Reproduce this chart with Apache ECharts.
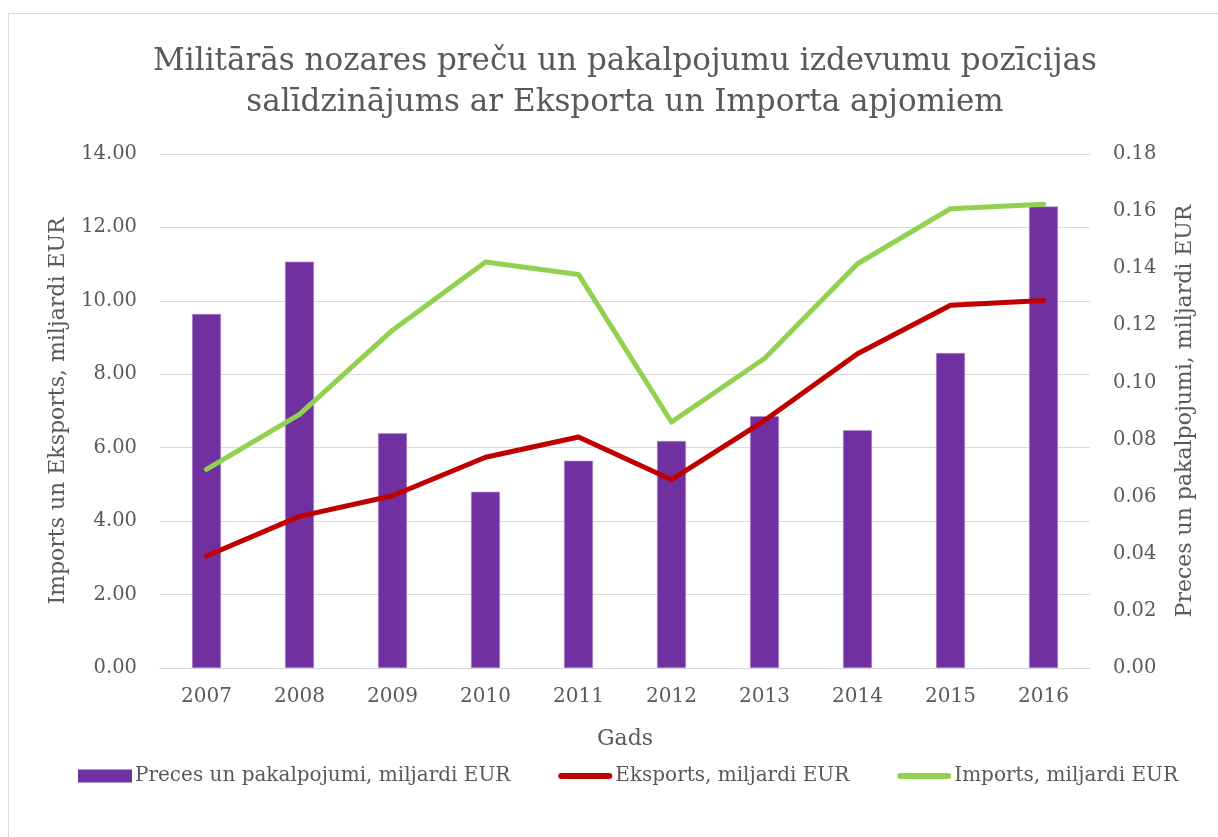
<!DOCTYPE html>
<html>
<head>
<meta charset="utf-8">
<script src="https://cdn.jsdelivr.net/npm/echarts@6/dist/echarts.min.js"></script>
<style>
  html, body { margin: 0; padding: 0; background: #fff; }
  #chart { width: 1218px; height: 837px; }
</style>
</head>
<body>
<div id="chart"></div>
<script>
// dati
var years = ['2007', '2008', '2009', '2010', '2011', '2012', '2013', '2014', '2015', '2016'];
var preces = [0.124, 0.1423, 0.0822, 0.0617, 0.0726, 0.0795, 0.0882, 0.0833, 0.1103, 0.1616];
var eksports = [3.05, 4.13, 4.69, 5.74, 6.29, 5.13, 6.74, 8.56, 9.88, 10.01];
var imports = [5.41, 6.91, 9.20, 11.06, 10.72, 6.70, 8.43, 11.01, 12.51, 12.63];

var FONT = 'DejaVu Serif';
var GREY = '#595959';
// līnijas ikona leģendai (noapaļoti gali)
var LINE_ICON = 'path://M3,0 L53,0 A3,3 0 0 1 53,6 L3,6 A3,3 0 0 1 3,0 Z';

var myChart = echarts.init(document.getElementById('chart'));
var option = {
  animation: false,
  backgroundColor: '#fff',
  textStyle: { fontFamily: FONT, color: GREY },
  graphic: [{
    type: 'rect',
    shape: { x: 8.5, y: 13.5, width: 1400, height: 1000 },
    style: { fill: 'none', stroke: '#d9d9d9', lineWidth: 1 },
    silent: true
  }],
  title: {
    text: 'Militārās nozares preču un pakalpojumu izdevumu pozīcijas\nsalīdzinājums ar Eksporta un Importa apjomiem',
    left: 620,
    top: 36,
    textAlign: 'center',
    textStyle: { fontFamily: FONT, fontSize: 31, fontWeight: 'normal', color: GREY, lineHeight: 41 }
  },
  legend: {
    left: 78,
    top: 766,
    padding: 0,
    itemWidth: 54,
    itemHeight: 13,
    itemGap: 48,
    symbolKeepAspect: true,
    textStyle: { fontFamily: FONT, fontSize: 20, color: GREY, padding: [0, 0, 0, -2] },
    data: [
      { name: 'Preces un pakalpojumi, miljardi EUR', icon: 'rect', itemStyle: { borderWidth: 0 } },
      { name: 'Eksports, miljardi EUR', icon: LINE_ICON },
      { name: 'Imports, miljardi EUR', icon: LINE_ICON }
    ]
  },
  grid: { left: 160, right: 128, top: 154, bottom: 169 },
  xAxis: {
    type: 'category',
    data: years,
    name: 'Gads',
    nameLocation: 'middle',
    nameGap: 60,
    nameTextStyle: { fontFamily: FONT, fontSize: 22, color: GREY },
    axisLine: { lineStyle: { color: '#d9d9d9' } },
    axisTick: { show: false },
    axisLabel: { fontFamily: FONT, fontSize: 20, color: GREY, margin: 19 }
  },
  yAxis: [{
    type: 'value',
    min: 0, max: 14, interval: 2,
    name: 'Imports un Eksports, miljardi EUR',
    nameLocation: 'middle',
    nameGap: 91,
    nameTextStyle: { fontFamily: FONT, fontSize: 22, color: GREY },
    axisLabel: { fontFamily: FONT, fontSize: 19.5, color: GREY, margin: 23,
      formatter: function (v) { return v.toFixed(2); } },
    splitLine: { lineStyle: { color: '#d9d9d9', width: 1 } }
  }, {
    type: 'value',
    min: 0, max: 0.18, interval: 0.02,
    name: 'Preces un pakalpojumi, miljardi EUR',
    nameLocation: 'middle',
    nameGap: 84,
    nameTextStyle: { fontFamily: FONT, fontSize: 22, color: GREY },
    axisLabel: { fontFamily: FONT, fontSize: 19.5, color: GREY, margin: 23,
      formatter: function (v) { return v.toFixed(2); } },
    splitLine: { show: false }
  }],
  series: [{
    name: 'Preces un pakalpojumi, miljardi EUR',
    type: 'bar',
    yAxisIndex: 1,
    data: preces,
    barWidth: 29,
    itemStyle: { color: '#7030A0', borderColor: '#b48fd0', borderWidth: 0.6 }
  }, {
    name: 'Eksports, miljardi EUR',
    type: 'line',
    yAxisIndex: 0,
    data: eksports,
    symbol: 'none',
    lineStyle: { color: '#C00000', width: 5, cap: 'round', join: 'round' },
    itemStyle: { color: '#C00000' }
  }, {
    name: 'Imports, miljardi EUR',
    type: 'line',
    yAxisIndex: 0,
    data: imports,
    symbol: 'none',
    lineStyle: { color: '#92D050', width: 5, cap: 'round', join: 'round' },
    itemStyle: { color: '#92D050' }
  }]
};
myChart.setOption(option);
</script>
</body>
</html>
